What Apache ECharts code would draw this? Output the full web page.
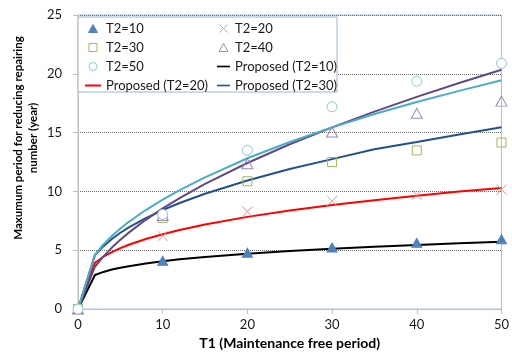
<!DOCTYPE html>
<html><head><meta charset="utf-8">
<script src="https://cdn.jsdelivr.net/npm/echarts@6/dist/echarts.min.js"></script>
<style>html,body{margin:0;padding:0;background:#fff}#c{width:512px;height:355px}</style>
</head><body><div id="c"></div>
<script>
// Measured points
var xPts = [0, 10, 20, 30, 40, 50];
var t2_10 = [0, 4.11, 4.79, 5.24, 5.63, 5.94];
var t2_20 = [0, 6.22, 8.30, 9.20, 9.71, 10.16];
var t2_30 = [0, 7.75, 10.87, 12.50, 13.49, 14.16];
var t2_40 = [0, 7.95, 12.36, 15.06, 16.64, 17.68];
var t2_50 = [0, 8.05, 13.49, 17.20, 19.37, 20.90];
// Proposed curves
var xCurve = [0, 2, 3, 4, 5, 6, 8, 10, 12, 15, 20, 25, 30, 35, 40, 45, 50];
var prop10 = [0, 2.90, 3.16, 3.36, 3.52, 3.65, 3.88, 4.07, 4.23, 4.43, 4.70, 4.93, 5.13, 5.30, 5.45, 5.59, 5.72];
var prop20 = [0, 3.94, 4.45, 4.85, 5.18, 5.47, 5.96, 6.37, 6.73, 7.19, 7.84, 8.38, 8.85, 9.26, 9.64, 9.99, 10.30];
var prop30 = [0, 4.59, 5.35, 5.96, 6.49, 6.95, 7.74, 8.42, 9.02, 9.81, 10.93, 11.91, 12.75, 13.58, 14.20, 14.85, 15.45];
var prop40 = [0, 3.60, 4.48, 5.23, 5.90, 6.50, 7.59, 8.56, 9.44, 10.65, 12.42, 14.01, 15.45, 16.79, 18.04, 19.22, 20.35];
var prop50 = [0, 4.62, 5.50, 6.22, 6.85, 7.42, 8.42, 9.30, 10.12, 11.20, 12.82, 14.20, 15.45, 16.58, 17.60, 18.55, 19.45];
var xTicks = [0, 10, 20, 30, 40, 50];
var yTicks = [0, 5, 10, 15, 20, 25];

function pairs(xs, ys) { return xs.map(function (x, i) { return [x, ys[i]]; }); }

var FONT = 'Lato';
var chart = echarts.init(document.getElementById('c'), null, {renderer: 'canvas'});

var C = {p10: '#000000', p20: '#FF0000', p30: '#24508A', p40: '#604A86', p50: '#4BACC6',
         s10: '#4F81BD', s20: '#E09C9A', s30: '#9BBB59', s40: '#9A88BE', s50: '#8CC8DA'};

function lineSeries(name, ys, color) {
  return {name: name, type: 'line', data: pairs(xCurve, ys), symbol: 'none', smooth: false,
    lineStyle: {color: color, width: 2}, itemStyle: {color: color}, z: 2};
}
function scatterSeries(name, ys, symbol, size, fill, stroke) {
  return {name: name, type: 'scatter', data: pairs(xPts, ys), symbol: symbol, symbolSize: size,
    itemStyle: {color: fill, borderColor: stroke, borderWidth: 1, opacity: 1}, z: 3};
}
var crossPath = 'path://M0,0L10,10M10,0L0,10';
var triIcon = 'path://M5,0L10,9L0,9Z';
var rectIcon = 'path://M0,0L9,0L9,9L0,9Z';
var circIcon = 'path://M10,5A5,5,0,1,1,0,5A5,5,0,1,1,10,5Z';
var crossIcon = 'path://M0,0L9,9M9,0L0,9';
var lineIcon = 'path://M0,0L16,0L16,2L0,2Z';

function li(name, icon, fill, stroke) {
  return {name: name, icon: icon,
    itemStyle: {color: fill, borderColor: stroke, borderWidth: stroke ? 1 : 0}};
}

var legendText = {fontFamily: FONT, fontSize: 13, color: '#1a1a1a', lineHeight: 15};

chart.setOption({
  animation: false,
  backgroundColor: '#fff',
  grid: {left: 78, right: 7, top: 15, bottom: 44, show: true, borderColor: '#A7BFDE', borderWidth: 1},
  graphic: [
    {type: 'rect', shape: {x: 78, y: 17, width: 259, height: 75}, style: {fill: '#fff', stroke: '#9DB6D6', lineWidth: 1}, z: 50},
    {type: 'text', x: 26, y: 138, rotation: Math.PI / 2,
      style: {text: 'Maxumum period for reducing repairing\nnumber (year)', fontFamily: FONT, fontSize: 11.5, fontWeight: 'bold',
        fill: '#000', align: 'center', verticalAlign: 'middle', lineHeight: 15}, z: 50}
  ],
  legend: [
    {left: 80, top: 16, orient: 'vertical', itemGap: 4, itemWidth: 16, itemHeight: 8, z: 60, symbolKeepAspect: true,
      data: [li('T2=10', triIcon, C.s10, C.s10), li('T2=30', rectIcon, 'rgba(0,0,0,0)', C.s30),
             li('T2=50', circIcon, 'rgba(0,0,0,0)', C.s50), li('Proposed (T2=20)', lineIcon, C.p20, null)],
      textStyle: legendText},
    {left: 212, top: 16, orient: 'vertical', itemGap: 4, itemWidth: 13, itemHeight: 8, z: 60, symbolKeepAspect: true,
      data: [li('T2=20', crossIcon, 'rgba(0,0,0,0)', C.s20), li('T2=40', triIcon, 'rgba(0,0,0,0)', C.s40),
             li('Proposed (T2=10)', lineIcon, C.p10, null), li('Proposed (T2=30)', lineIcon, C.p30, null)],
      textStyle: legendText}
  ],
  xAxis: {type: 'value', min: 0, max: 50, interval: 10,
    name: 'T1 (Maintenance free period)', nameLocation: 'middle', nameGap: 26,
    nameTextStyle: {fontFamily: FONT, fontSize: 14, fontWeight: 'bold', color: '#000'},
    axisLine: {show: true, onZero: false, lineStyle: {color: '#BFBFBF', width: 1}},
    axisTick: {show: true, length: 5, lineStyle: {color: '#BFBFBF'}},
    axisLabel: {fontFamily: FONT, fontSize: 13, color: '#1a1a1a', margin: 9,
      formatter: function (v) { return xTicks.indexOf(v) >= 0 ? String(v) : ''; }},
    splitLine: {show: false}},
  yAxis: {type: 'value', min: 0, max: 25, interval: 5,
    axisLine: {show: true, lineStyle: {color: '#BFBFBF', width: 1}},
    axisTick: {show: true, length: 5, lineStyle: {color: '#BFBFBF'}},
    axisLabel: {fontFamily: FONT, fontSize: 13, color: '#1a1a1a', margin: 16,
      formatter: function (v) { return yTicks.indexOf(v) >= 0 ? String(v) : ''; }},
    splitLine: {show: true, lineStyle: {color: '#6F6F6F', type: 'dotted', width: 1}}},
  series: [
    lineSeries('Proposed (T2=10)', prop10, C.p10),
    lineSeries('Proposed (T2=20)', prop20, C.p20),
    lineSeries('Proposed (T2=30)', prop30, C.p30),
    lineSeries('Proposed (T2=40)', prop40, C.p40),
    lineSeries('Proposed (T2=50)', prop50, C.p50),
    scatterSeries('T2=10', t2_10, 'triangle', [10, 9], C.s10, C.s10),
    scatterSeries('T2=20', t2_20, crossPath, 10, 'rgba(0,0,0,0)', C.s20),
    scatterSeries('T2=30', t2_30, 'rect', 9, 'rgba(255,255,255,0)', C.s30),
    scatterSeries('T2=40', t2_40, 'triangle', [11, 10], 'rgba(255,255,255,0)', C.s40),
    scatterSeries('T2=50', t2_50, 'circle', 10, '#fff', C.s50)
  ]
});
</script></body></html>
